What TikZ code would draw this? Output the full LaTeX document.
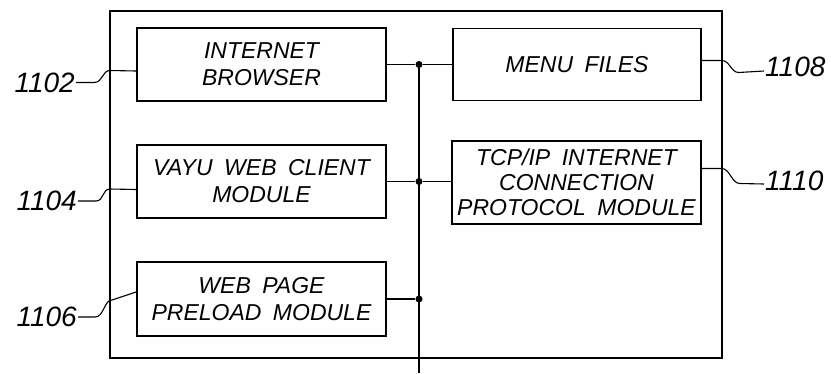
\documentclass[tikz,border=0pt]{standalone}
\usepackage{fontspec}
\setmainfont{Liberation Sans}
\newcommand\boxfont{\fontsize{23}{27}\selectfont\itshape\spaceskip=0.5em\relax}
\newcommand\tightfont{\fontsize{23}{25}\selectfont\itshape\spaceskip=0.5em\relax}

\begin{document}
\begin{tikzpicture}[x=1pt,y=-1pt,
  box/.style={draw, line width=1.6pt, minimum width=249pt, align=center, inner sep=1pt, font=\boxfont},
  num/.style={font=\fontsize{28}{30}\selectfont\itshape, inner sep=1pt},
  lead/.style={line width=1.1pt},
  dot/.style={fill, circle, minimum size=7pt, inner sep=0pt}]
\useasboundingbox (0,0) rectangle (831,373);

% outer frame
\draw[line width=2pt] (110,11) rectangle (722,358);

% module boxes
\node[box, minimum height=73pt] (browser) at (261.5,64.5) {INTERNET\\BROWSER};
\node[box, minimum height=73pt] (client) at (261.5,181.5) {VAYU WEB CLIENT\\MODULE};
\node[box, minimum height=74pt] (preload) at (261.5,299) {WEB PAGE\\PRELOAD MODULE};
\node[box, minimum width=248pt, minimum height=72pt] (menu) at (577,64.5) {MENU FILES};
\node[box, minimum height=83pt, font=\tightfont] (tcp) at (576.5,182.5)
  {TCP/IP INTERNET\\CONNECTION\\PROTOCOL MODULE};

% bus and junctions
\coordinate (bus) at (419,373);
\node[dot] (j1) at (browser.east -| bus) {};
\node[dot] (j2) at (client.east -| bus) {};
\node[dot] (j3) at (preload.east -| bus) {};
\draw[line width=1.4pt] (browser.east) -- (j1) -- (menu.west);
\draw[line width=1.4pt] (client.east) -- (j2) -- (tcp.west |- j2);
\draw[line width=1.4pt] (preload.east) -- (j3);
\draw[line width=1.4pt] (j1.center) -- (bus);

% reference numerals
\node[num, anchor=east] (n1102) at (76,82.5) {1102};
\node[num, anchor=east] (n1104) at (78,201) {1104};
\node[num, anchor=east] (n1106) at (78,317) {1106};
\node[num, anchor=west] (n1108) at (764,67) {1108};
\node[num, anchor=west] (n1110) at (764,181) {1110};

% leader lines
\draw[lead] (n1102.east) -- ++(18,0) .. controls +(9,0) and +(-8,0) .. ++(16,-12) -- ([yshift=-6.5pt]browser.west);
\draw[lead] (n1104.east) -- ++(18,0) .. controls +(8,0) and +(-8,0) .. ++(14,-12) -- ([yshift=-8pt]client.west);
\draw[lead] (n1106.east) -- ++(17,0) .. controls +(9,0) and +(-8,0) .. ++(17,-17) -- ([yshift=7pt]preload.west);
\draw[lead] ([yshift=4pt]menu.east) -- ++(20,0) .. controls +(8,0) and +(-8,0) .. ++(17,12) -- ([yshift=-4pt]n1108.west);
\draw[lead] ([yshift=14pt]tcp.east) -- ++(20,0) .. controls +(8,0) and +(-8,0) .. ++(18,15) -- ([yshift=-3pt]n1110.west);

\end{tikzpicture}
\end{document}
